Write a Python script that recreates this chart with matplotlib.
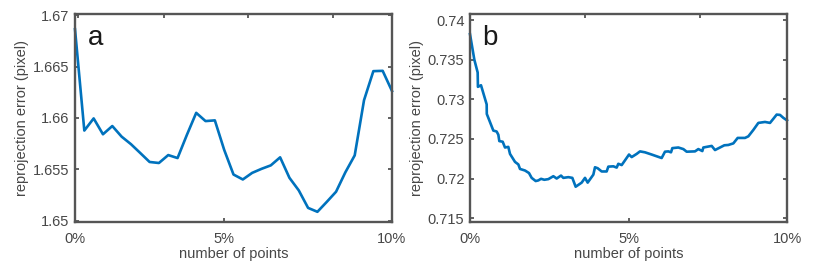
import matplotlib
matplotlib.use("Agg")
import matplotlib.pyplot as plt

# ---- data (panel a) ----
x_a = [i * 10.0 / 34 for i in range(35)]
err_a = [1.66862, 1.65878, 1.65996, 1.65842, 1.65922, 1.65819, 1.65746, 1.65660,
         1.65573, 1.65563, 1.65640, 1.65611, 1.65836, 1.66050, 1.65970, 1.65977,
         1.65691, 1.65451, 1.65403, 1.65467, 1.65506, 1.65540, 1.65618, 1.65419,
         1.65297, 1.65127, 1.65089, 1.65185, 1.65284, 1.65473, 1.65637, 1.66173,
         1.66455, 1.66458, 1.66262]

# ---- data (panel b) ----
x_b = [0.000, 0.137, 0.242, 0.250, 0.347, 0.526, 0.530, 0.736, 0.841, 0.894,
       0.925, 1.031, 1.104, 1.209, 1.262, 1.420, 1.525, 1.577, 1.735, 1.861,
       1.945, 2.072, 2.156, 2.240, 2.345, 2.471, 2.629, 2.734, 2.871, 2.944,
       3.102, 3.228, 3.333, 3.523, 3.628, 3.712, 3.891, 3.943, 4.027, 4.154,
       4.311, 4.364, 4.522, 4.627, 4.679, 4.785, 4.890, 5.016, 5.100, 5.258,
       5.363, 5.521, 5.731, 6.046, 6.151, 6.256, 6.341, 6.383, 6.572, 6.730,
       6.835, 7.098, 7.203, 7.329, 7.361, 7.624, 7.729, 7.886, 8.023, 8.149,
       8.307, 8.444, 8.675, 8.780, 8.938, 9.096, 9.306, 9.464, 9.569, 9.674,
       9.779, 9.884, 10.000]
err_b = [0.73825, 0.73502, 0.73340, 0.73159, 0.73179, 0.72937, 0.72816, 0.72606, 0.72594, 0.72553,
         0.72473, 0.72465, 0.72392, 0.72400, 0.72311, 0.72210, 0.72178, 0.72121, 0.72101, 0.72069,
         0.72008, 0.71968, 0.71976, 0.71996, 0.71984, 0.71992, 0.72029, 0.72000, 0.72037, 0.72008,
         0.72017, 0.72008, 0.71896, 0.71948, 0.72008, 0.71948, 0.72049, 0.72142, 0.72130, 0.72089,
         0.72089, 0.72150, 0.72154, 0.72138, 0.72186, 0.72170, 0.72230, 0.72303, 0.72271, 0.72311,
         0.72343, 0.72331, 0.72303, 0.72259, 0.72339, 0.72343, 0.72331, 0.72384, 0.72392, 0.72372,
         0.72339, 0.72343, 0.72372, 0.72347, 0.72392, 0.72412, 0.72360, 0.72392, 0.72420, 0.72424,
         0.72444, 0.72513, 0.72513, 0.72533, 0.72614, 0.72703, 0.72715, 0.72703, 0.72755, 0.72808,
         0.72804, 0.72767, 0.72735]

# ---- ticks ----
xtick_labels = ["0%", "5%", "10%"]
xtick_pos_a = [0, 4.7, 10]
xtick_pos_b = [0, 5, 10]
toptick_pos_a = [0.09, 2.8, 5.46, 8.14]
toptick_pos_b = [0, 3.63, 7.25]
yticks_a = [1.65, 1.655, 1.66, 1.665, 1.67]
ytick_labels_a = ["1.65", "1.655", "1.66", "1.665", "1.67"]
yticks_b = [0.715, 0.72, 0.725, 0.73, 0.735, 0.74]
ytick_labels_b = ["0.715", "0.72", "0.725", "0.73", "0.735", "0.74"]

plt.rcParams['font.family'] = ['Liberation Sans', 'DejaVu Sans']
LINE = "#0072BD"
SPINE = "#555555"
TXT = "#474747"

fig = plt.figure(figsize=(8.14, 2.70), dpi=100)
ax_a = fig.add_axes([75/814, 48/270, 317/814, 208/270])
ax_b = fig.add_axes([470/814, 48/270, 317/814, 208/270])

def style(ax, xpos, toppos, yt, ytl, ylim, label):
    ax.set_xlim(0, 10)
    ax.set_ylim(*ylim)
    ax.set_xticks(xpos)
    ax.set_xticklabels(xtick_labels)
    ax.set_yticks(yt)
    ax.set_yticklabels(ytl)
    for s in ax.spines.values():
        s.set_color(SPINE)
        s.set_linewidth(1.7)
    ax.tick_params(direction="in", length=3, width=1.3, color=SPINE,
                   labelsize=10.5, labelcolor=TXT, right=True)
    ax.tick_params(axis="x", pad=7)
    ax.tick_params(axis="y", pad=4)
    top = ax.secondary_xaxis("top")
    top.set_xticks(toppos)
    top.tick_params(direction="in", length=3, width=1.3, color=SPINE, labeltop=False)
    top.spines["top"].set_visible(False)
    ax.set_xlabel("number of points", fontsize=10.5, color=TXT, labelpad=1)
    ax.set_ylabel("reprojection error (pixel)", fontsize=10.5, color=TXT, labelpad=3)
    ax.text(0.04, 0.85, label, transform=ax.transAxes, fontsize=20, color="#1a1a1a")

ax_a.plot(x_a, err_a, color=LINE, lw=1.9, clip_on=False)
style(ax_a, xtick_pos_a, toptick_pos_a, yticks_a, ytick_labels_a, (1.6499, 1.6701), "a")

ax_b.plot(x_b, err_b, color=LINE, lw=1.9, clip_on=False)
style(ax_b, xtick_pos_b, toptick_pos_b, yticks_b, ytick_labels_b, (0.7145, 0.7408), "b")

fig.savefig("out.png", dpi=100)
